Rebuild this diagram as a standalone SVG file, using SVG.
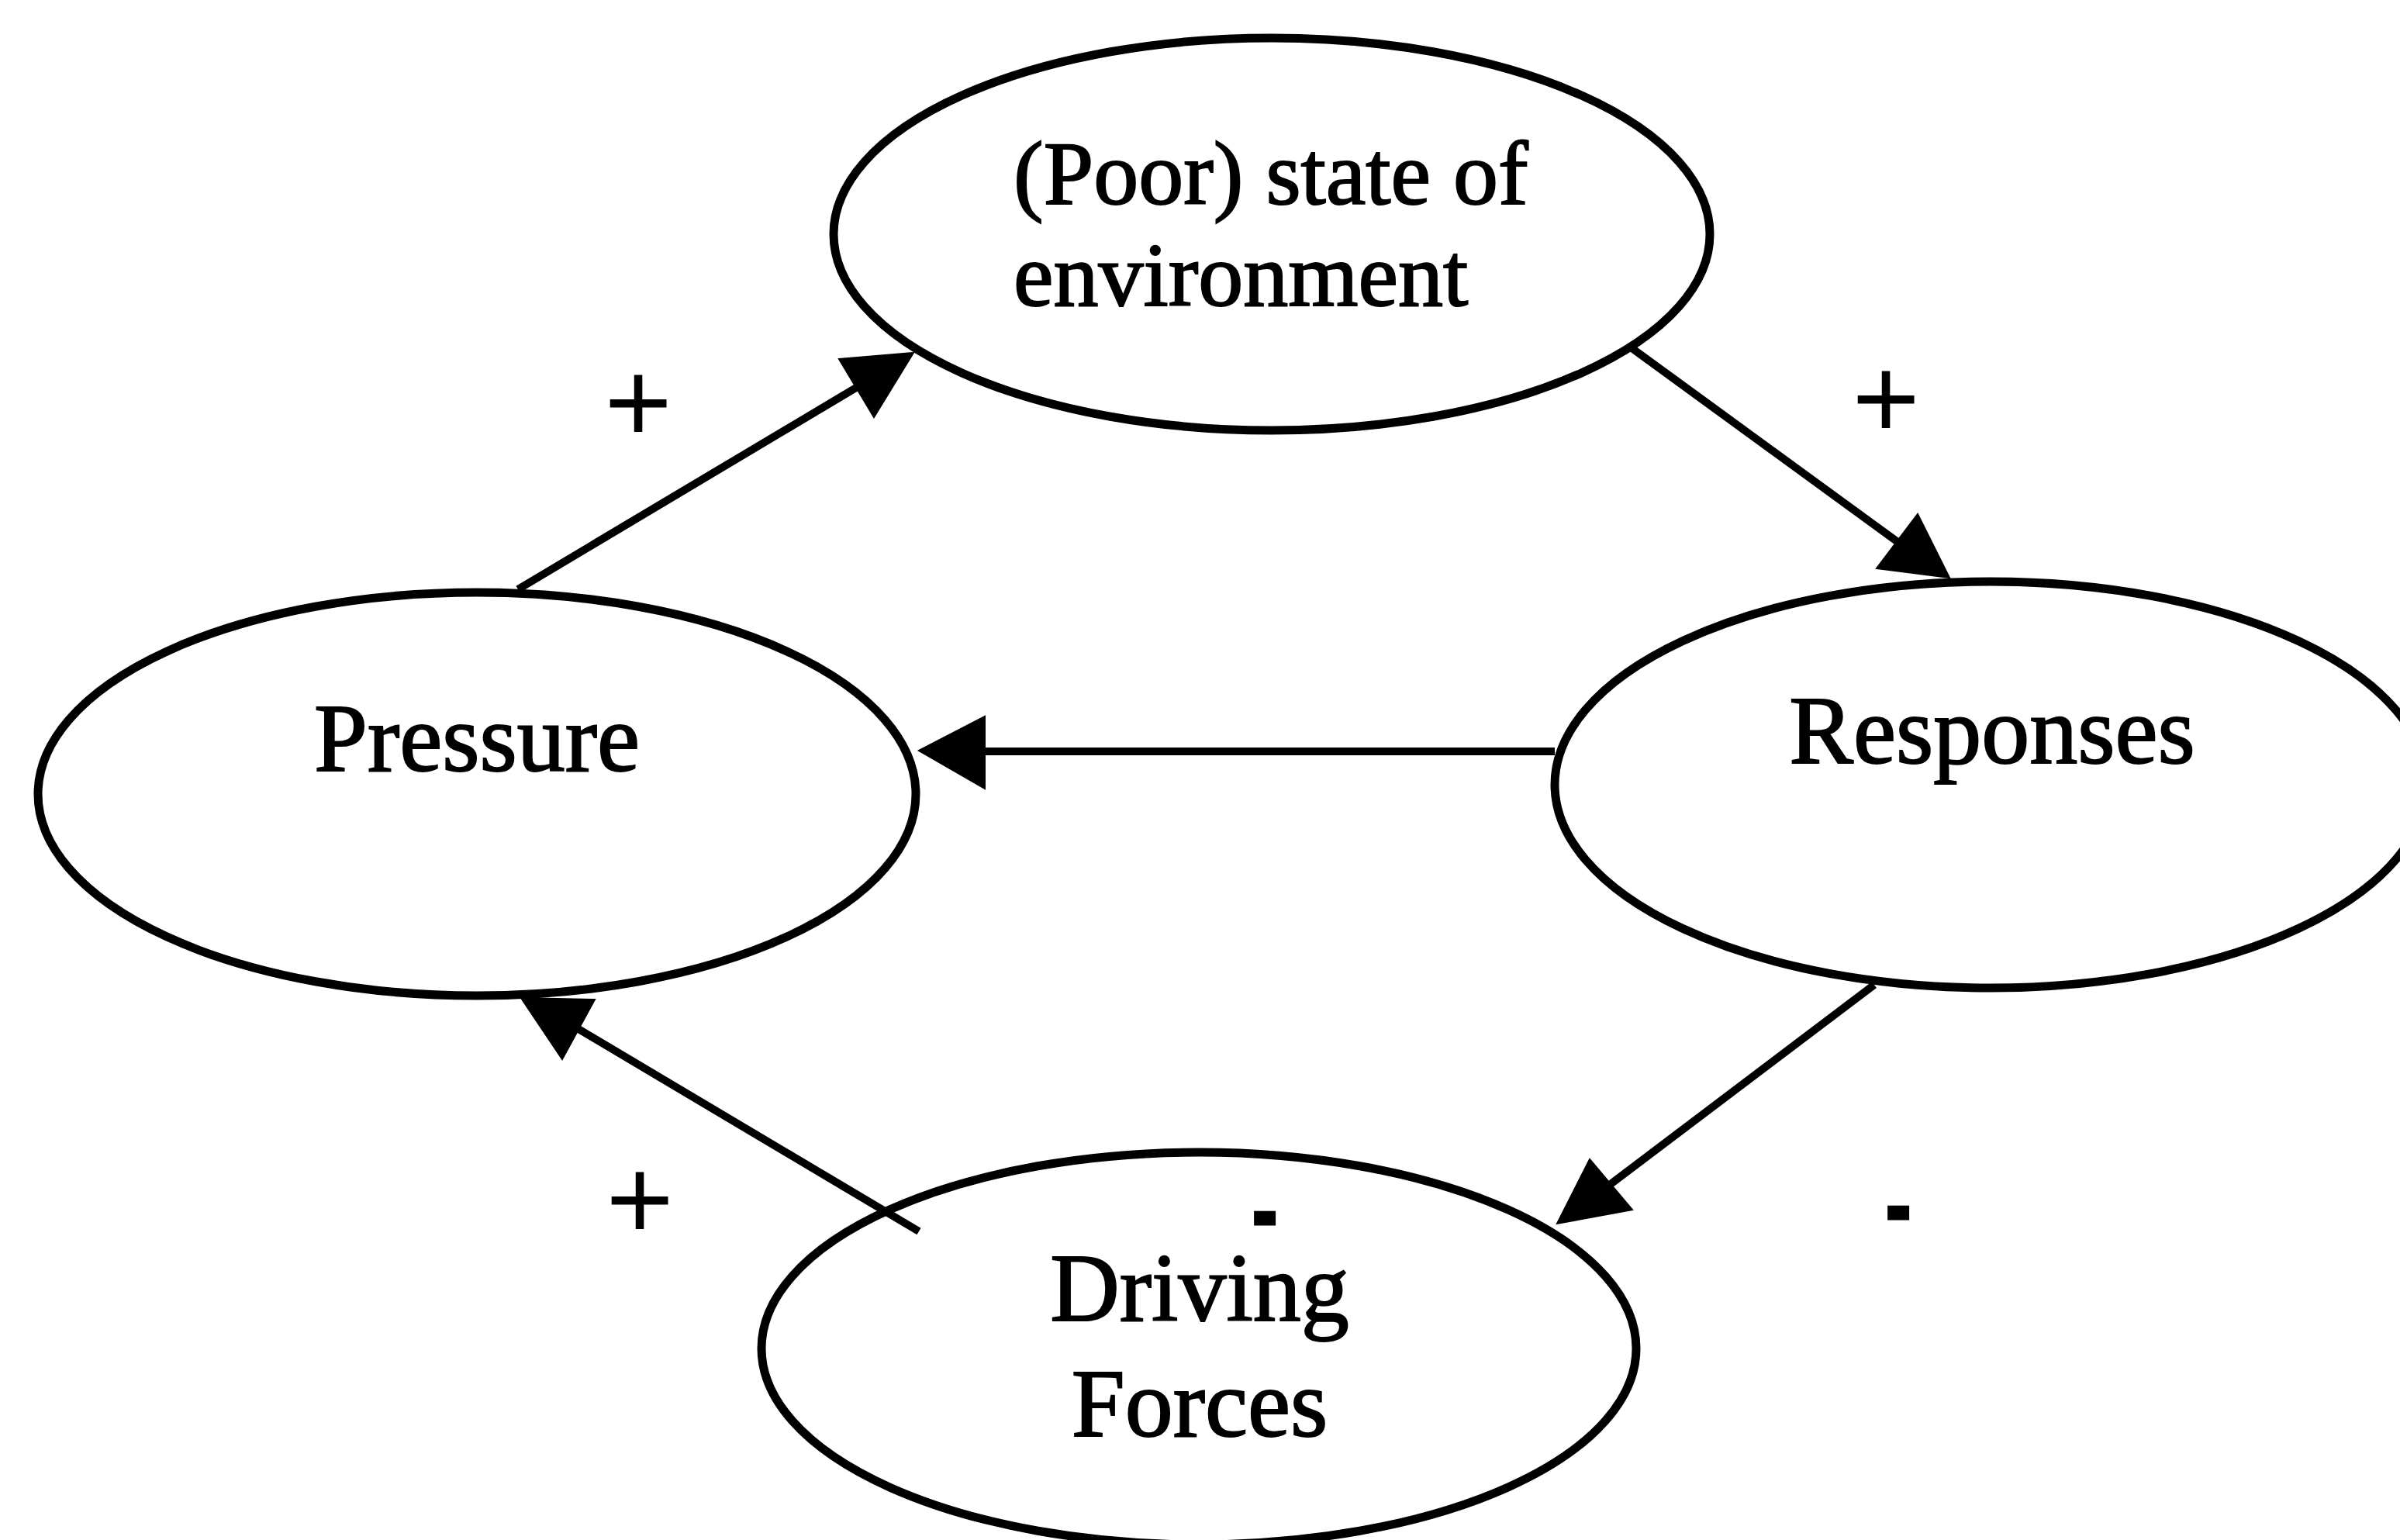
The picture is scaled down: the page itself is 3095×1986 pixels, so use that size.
<svg xmlns="http://www.w3.org/2000/svg" width="3095" height="1986" viewBox="0 0 3095 1986">
  <style>
    .node { fill: none; stroke: #000; stroke-width: 11; }
    .label { font-family: "Liberation Serif", "Times New Roman", serif; font-size: 124px; fill: #000; stroke: #000; stroke-width: 2; }
    .small { font-size: 116px; }
    .edge { stroke: #000; stroke-width: 10; fill: none; }
    .head { fill: #000; stroke: #000; stroke-width: 2; stroke-linejoin: miter; }
    .sign { font-family: "Liberation Serif", "Times New Roman", serif; fill: #000; stroke: #000; text-anchor: middle; stroke-linejoin: miter; }
    .plus { font-size: 150px; stroke-width: 3; }
    .minus { font-size: 50px; stroke-width: 15; }
  </style>
  <rect width="3095" height="1986" fill="#fff"/>

  <!-- connectors: shafts end at the base of each filled triangular head -->
  <g id="connectors">
    <g id="pressure-to-state">
      <line class="edge" x1="668" y1="760" x2="1104" y2="500"/>
      <polygon class="head" points="1082,463 1178,455 1127,538"/>
    </g>
    <g id="state-to-responses">
      <line class="edge" x1="2103" y1="448" x2="2446" y2="698"/>
      <polygon class="head" points="2473,663 2514,745 2420,733"/>
    </g>
    <g id="responses-to-pressure">
      <line class="edge" x1="2005" y1="969" x2="1268" y2="969"/>
      <polygon class="head" points="1185,968 1270,924 1270,1017"/>
    </g>
    <g id="responses-to-driving">
      <line class="edge" x1="2417" y1="1270" x2="2077" y2="1527"/>
      <polygon class="head" points="2050,1495 2105,1560 2008,1578"/>
    </g>
    <g id="driving-to-pressure">
      <line class="edge" x1="1185" y1="1588" x2="746" y2="1327"/>
      <polygon class="head" points="672,1287 767,1289 725,1366"/>
    </g>
  </g>

  <!-- polarity signs beside the links -->
  <g id="signs">
    <text class="sign plus" x="823" y="570">+</text>
    <text class="sign plus" x="2432" y="565">+</text>
    <text class="sign plus" x="825" y="1598">+</text>
    <text class="sign minus" x="1631" y="1583">-</text>
    <text class="sign minus" x="2448" y="1576">-</text>
  </g>

  <g id="node-state">
    <ellipse class="node" cx="1640" cy="302" rx="565" ry="253"/>
    <text class="label small" x="1307" y="263">(Poor) state of</text>
    <text class="label small" x="1307" y="394">environment</text>
  </g>

  <g id="node-pressure">
    <ellipse class="node" cx="615" cy="1024" rx="566" ry="260"/>
    <text class="label" x="615" y="994" text-anchor="middle">Pressure</text>
  </g>

  <g id="node-responses">
    <ellipse class="node" cx="2567" cy="1012" rx="562" ry="262"/>
    <text class="label" x="2569" y="984" text-anchor="middle">Responses</text>
  </g>

  <g id="node-driving">
    <ellipse class="node" cx="1546" cy="1739" rx="564" ry="253"/>
    <text class="label" x="1547" y="1703" text-anchor="middle">Driving</text>
    <text class="label" x="1547" y="1852" text-anchor="middle">Forces</text>
  </g>
</svg>
